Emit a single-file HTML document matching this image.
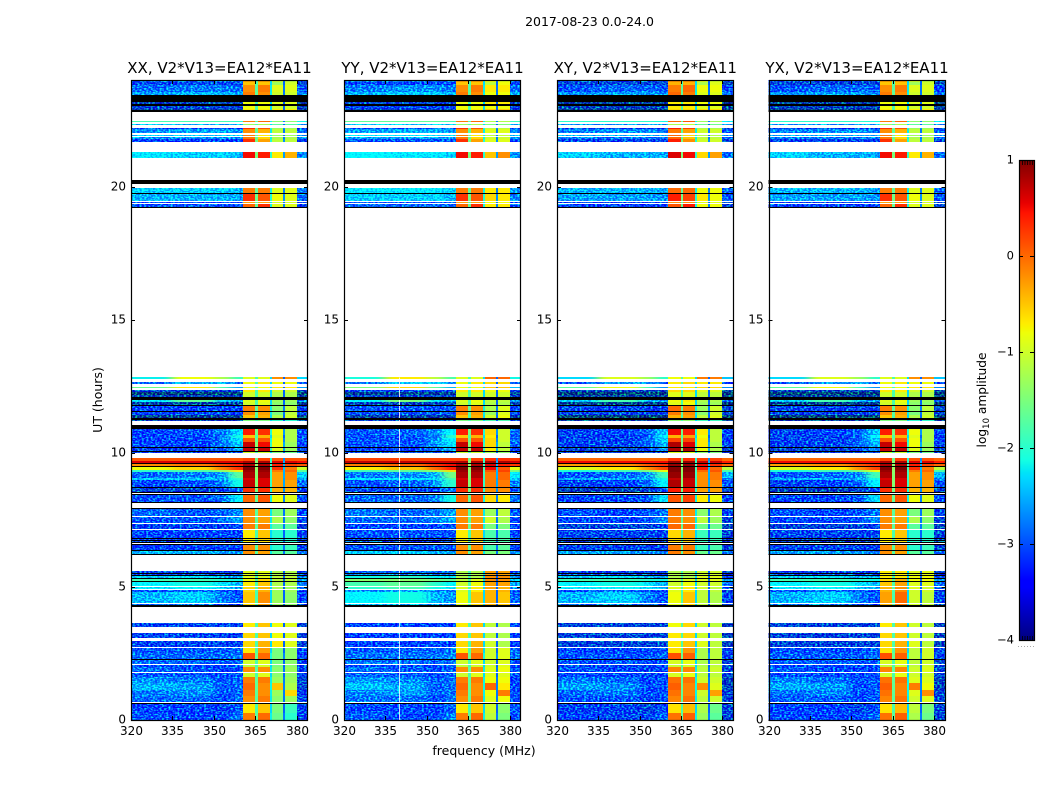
<!DOCTYPE html>
<html>
<head>
<meta charset="utf-8">
<title>2017-08-23 0.0-24.0</title>
<style>
html,body{margin:0;padding:0;background:#fff;}
svg{display:block;}
text{font-family:"DejaVu Sans","Liberation Sans",sans-serif;fill:#000;}
</style>
</head>
<body>
<svg id="chart" xmlns="http://www.w3.org/2000/svg" width="1050" height="800" viewBox="0 0 1050 800" shape-rendering="crispEdges">
<defs>
<filter id="speckle" x="-10%" y="-2%" width="120%" height="104%" color-interpolation-filters="sRGB">
<feTurbulence type="fractalNoise" baseFrequency="0.45 0.7" numOctaves="1" seed="3" result="noise"/>
<feColorMatrix in="noise" type="matrix" values="0 0 0 0 0  2.6 0 0 0 -1.05  0 0 0 0 0  0 0 0 0 1" result="greenNoise"/>
<feGaussianBlur in="SourceGraphic" stdDeviation="5 0" result="smooth"/>
<feComposite in="smooth" in2="greenNoise" operator="arithmetic" k1="0" k2="1" k3="1" k4="0"/>
</filter>
<filter id="smoothOnly" x="-10%" y="-2%" width="120%" height="104%" color-interpolation-filters="sRGB">
<feGaussianBlur in="SourceGraphic" stdDeviation="5 0"/>
</filter>
</defs>
<rect x="0" y="0" width="1050" height="800" fill="#fff"/>
<text x="589.5" y="26" font-size="12.5" text-anchor="middle">2017-08-23 0.0-24.0</text>
<text x="484" y="755" font-size="12.5" text-anchor="middle">frequency (MHz)</text>
<text transform="translate(102,400) rotate(-90)" font-size="12.5" text-anchor="middle">UT (hours)</text>
<text transform="translate(986,400) rotate(-90)" font-size="12.2" text-anchor="middle">log<tspan font-size="8.5" dy="3">10</tspan><tspan dy="-3"> amplitude</tspan></text>
</svg>
<script>
const W = null;
const K = -9;
const panelTitles = ["XX, V2*V13=EA12*EA11", "YY, V2*V13=EA12*EA11", "XY, V2*V13=EA12*EA11", "YX, V2*V13=EA12*EA11"];
const xTickLabels = [320, 335, 350, 365, 380];
const yTickLabels = [0, 5, 10, 15, 20];
const colorbarTicks = [1, 0, -1, -2, -3, -4];
const freqEdges = [320, 335, 350, 356, 360.4, 364.8, 370.2, 374.9, 379.9, 384];
const gapEdges = [[364.8, 365.8], [370.2, 370.9], [374.9, 375.6]];
const gapLevels = [-1.8, -2.3, -2.9];
const flaggedChannelsYY = [340];
const rowTops = [
24.00,23.93,23.81,23.55,23.44,23.19,23.10,23.04,22.91,22.88,
22.80,22.46,22.43,22.35,22.30,22.20,22.15,22.02,21.95,21.90,
21.85,21.78,21.69,21.30,21.08,20.25,20.10,19.95,19.77,19.74,
19.47,19.44,19.39,19.35,19.23,19.20,12.85,12.79,12.69,12.61,
12.50,12.44,12.39,12.29,12.19,12.12,12.00,11.91,11.81,11.78,
11.60,11.56,11.44,11.34,11.25,11.21,11.06,10.91,10.69,10.56,
10.44,10.25,10.21,10.09,10.05,10.00,9.83,9.72,9.65,9.61,
9.53,9.50,9.38,9.31,9.08,9.00,8.75,8.69,8.56,8.52,
8.48,8.44,8.19,8.14,7.95,7.92,7.65,7.61,7.40,7.38,
7.16,7.11,6.84,6.80,6.75,6.71,6.68,6.64,6.59,6.56,
6.375,6.33,6.23,6.19,5.59,5.52,5.475,5.44,5.40,5.325,
5.29,5.22,5.175,5.03,4.99,4.91,4.875,4.81,4.40,4.35,
4.30,4.25,3.64,3.47,3.42,3.40,3.25,3.06,2.97,2.75,
2.69,2.50,2.30,2.25,2.10,2.05,2.00,1.81,1.75,1.62,
1.39,1.125,0.90,0.66,0.62,0.59,0.25];
const rowLevels = [
[-2.7,-2.7,-2.7,-2.7,-.3,-.3,-1,-1.1,-2.9],
[-3,-3,-3,-3,-.5,-.5,-1.3,-1,-3.1],
[-2.7,-2.6,-2.6,-2.7,-.2,-.1,-.9,-.9,-2.8],
[-2.4,-2.3,-2.3,-2.4,-.1,-.2,-1,-1,-2.5],
K,
[-3.2,-3.2,-3.2,-3.2,-.8,-.8,-.9,-.9,-3.3],
K,
[-3.1,-3.1,-3.1,-3.1,-.8,-.8,-1,-1,-3.2],
[-3.3,-3.3,-3.3,-3.3,-.7,-.7,-.7,-.7,-3.3],
K,
W,
[-1.7,-1.7,-1.7,-1.8,-.1,0,-1.4,-1.4,-1.9],
W,
[-2.3,-2.3,-2.3,-2.3,-1.3,-1.2,-1.7,-1.7,-2.4],
W,
[-2.9,-2.9,-2.9,-2.9,.3,.1,-1.3,-1.3,-3],
[-2.5,-2.4,-2.4,-2.5,-.2,-.4,-1.1,-1.1,-2.7],
W,
[-2.2,-2.2,-2.2,-2.2,-.1,-.7,-1.3,-1.3,-2.4],
W,
[-2.5,-2.5,-2.5,-2.5,-.1,-.6,-1.2,-1.2,-2.6],
[-2.9,-2.9,-2.9,-2.9,.3,-.3,-1.1,-1.1,-3],
W,
[-2.1,-2.2,-2.2,-2.3,.5,.4,-.7,-.4,-2.6],
W,
K,
W,
[-2.2,-2.2,-2.2,-2.3,-.1,-.1,-.9,-.9,-2.6],
K,
[-2.3,-2.3,-2.3,-2.4,.3,.1,-.8,-.9,-2.7],
W,
[-2.9,-2.9,-2.9,-2.9,-.3,-.3,-1,-1,-3],
W,
[-2.8,-2.8,-2.8,-2.8,0,.3,-.9,-.9,-3],
K,
W,
[-2.2,-.8,-1.2,-1.9,-.9,-.9,-.2,-.2,-2.3],
W,
[-2.7,-2.3,-2.3,-2.7,-.8,-.7,-.8,-.8,-2.8],
W,
[-1.6,-.7,-1.8,-2.6,-.8,-.8,-.7,-.7,-2.6],
W,
[-3.1,-3.1,-3.1,-3.1,-.7,-.7,-1,-1,-3.2],
[-3.5,-3.5,-3.5,-3.5,-1,-1,-1.2,-1.2,-3.5],
[-3.2,-3.2,-3.2,-3.2,-1,-1,-1.2,-1.2,-3.3],
K,
[-2.1,-1.6,-2.2,-2.4,-.9,-.8,-1.3,-1.3,-2.6],
[-3.3,-3.3,-3.3,-3.3,-1,-.9,-1.4,-1.4,-3.4],
K,
[-2.9,-2.9,-2.9,-2.9,-.1,-.2,-1.4,-1.1,-3],
K,
[-2.9,-2.9,-2.9,-2.9,-.2,-.3,-1.5,-1.1,-3],
[-3.4,-3.4,-3.4,-3.4,-.5,-.4,-1.2,-1,-3.4],
K,
[-3.2,-3.2,-3.2,-3.2,-1.5,-1.5,-2,-2,-3.2],
W,
K,
[-2.9,-2.8,-2.6,-2.1,.4,.3,-.8,-1.2,-2.8],
[-2.9,-2.9,-2.7,-1.9,-.5,-.4,-.9,-1.2,-2.9],
[-2.9,-2.9,-2.6,-2.1,.1,.1,-.8,-1.2,-2.8],
[-2.9,-2.9,-2.6,-2.2,.7,.5,-.8,-1.3,-2.9],
K,
[-3,-3,-2.8,-2.4,.7,.7,-.9,-1.3,-3],
K,
[-2.9,-2.9,-2.9,-2.9,-1,-1,-1.5,-1.6,-3],
W,
[.1,.1,.1,.1,.2,.2,.1,.1,.1],
[.6,.6,.6,.6,.8,.8,.6,.6,.5],
K,
[-.2,-.1,.2,.4,.8,.8,.4,.2,.1],
K,
[-.8,-.6,-.1,.3,1,1,.3,-.1,-1],
[-2,-1.8,-1.4,-.7,.9,.9,-.1,0,-1.7],
[-2.7,-2.6,-2.4,-1.6,.8,.8,-.3,-.2,-2.2],
[-2.2,-2.2,-2.3,-1.8,.6,.6,-.3,-.2,-2.4],
[-2.9,-2.8,-2.6,-1.9,.7,.6,-.3,-.3,-2.7],
K,
[-3.1,-3.1,-3,-2.7,.3,.3,-.4,-.4,-3],
K,
W,
K,
[-2.8,-2.8,-2.7,-2,0,.1,-.8,-.9,-2.8],
K,
W,
K,
[-2.7,-2.8,-2.7,-2.5,-.2,-.3,-1.5,-1.3,-2.9],
W,
[-2.8,-2.8,-2.7,-2.4,-.2,-.3,-1.2,-1.4,-3],
W,
[-3,-3,-3,-2.9,-.1,-.1,-1.7,-1.7,-3.1],
W,
[-2.9,-2.9,-2.9,-2.9,-.7,-.5,-2,-2,-3],
K,
[-3,-3,-3,-3,-.7,-.6,-2,-2,-3],
K,
[-3,-3,-3,-3,-.7,-.6,-2,-2,-3],
K,
W,
K,
[-2.9,-2.9,-2.9,-2.9,-.2,-.2,-2,-1.9,-3],
K,
[-2.3,-2.3,-2.4,-2.5,-.2,-.3,-1.7,-1.7,-2.6],
K,
W,
[-3,-3,-3,-3,-.9,-.9,-1.2,-1.2,-3],
K,
[-2.8,-2.8,-2.8,-2.8,-.9,-.9,-1.2,-1.2,-2.9],
K,
[-2.2,-2.1,-2.3,-2.4,-.9,-.9,-1.1,-1.1,-2.7],
K,
[-1.7,-1.7,-1.8,-1.9,-.8,-.6,-1.1,-1.1,-2.4],
K,
[-2,-1.9,-2.1,-2.3,-.7,-.5,-1.2,-1.2,-2.6],
W,
[-2.1,-2,-2.2,-2.4,-.6,-.4,-1.2,-1.3,-2.7],
W,
[-2.8,-2.7,-2.8,-2.9,-.6,-.4,-1.3,-1.3,-3],
[-2.3,-2.2,-2.6,-2.8,-.5,-.2,-1.3,-1.4,-2.9],
W,
[-2.6,-2.6,-2.8,-2.9,-.6,-.3,-1.3,-1.4,-3],
K,
W,
[-3,-3,-3,-3,-.7,-.5,-.8,-.9,-3.1],
W,
[-3,-3,-3,-3,-.7,-.5,-.8,-.9,-3.1],
W,
[-3,-3,-3,-3,-.6,-.5,-.8,-.9,-3.1],
W,
[-3,-3,-3,-3,-.6,-.4,-.7,-.9,-3.1],
W,
[-2.8,-2.8,-2.8,-2.7,-.7,-.3,-1.5,-1.4,-2.9],
[-2.7,-2.7,-2.7,-2.6,.1,0,-1.5,-1.4,-2.9],
K,
[-2.7,-2.7,-2.8,-2.7,-1,-.9,-1.5,-1.4,-3],
W,
[-2.9,-2.9,-2.9,-2.8,-1.1,-1,-1.5,-1.4,-3],
[-2.7,-2.8,-2.9,-2.8,-.2,-.2,-1.4,-1.3,-3],
W,
[-2.8,-2.8,-2.9,-2.8,-1,-.9,-1.4,-1.4,-3],
[-2.5,-2.6,-2.8,-2.7,-.1,-.1,-1.3,-1.3,-3.1],
[-2.3,-2.4,-2.8,-2.7,0,-.2,-.5,-1.2,-3.1],
[-2.6,-2.5,-2.8,-2.7,-.1,-.2,-1.3,-.6,-3],
[-2.7,-2.7,-2.9,-2.7,-.2,-.1,-1.4,-1.3,-3],
W,
K,
[-2.9,-2.9,-3,-2.8,-.7,-.5,-1.5,-1.9,-3],
[-2.8,-2.9,-2.9,-2.6,-.1,0,-1.6,-2,-3]
];
/* hour zones (upper bounds); per-panel offsets per zone: low band, RFI A/B, RFI C/D, high band */
const zoneTops = [2.7, 3.7, 5.6, 24];
const offsetsXX = [[0,0,0,0],[0,0,0,0],[0,0,0,0],[0,0,0,0]];
const offsetsYY = [[.05,0,.5,.2],[.05,0,-.3,.15],[.3,-.3,.9,.2],[.1,0,.2,.15]];
const offsetsXY = [[-.1,.05,.3,-.1],[-.1,-.1,-.2,-.1],[0,-.3,.2,-.1],[-.1,.1,.1,-.1]];
const offsetsYX = [[-.05,.05,.4,-.1],[-.1,0,-.2,-.1],[0,.2,.3,-.1],[-.1,0,0,-.1]];
const panelOffsets = [offsetsXX, offsetsYY, offsetsXY, offsetsYX];

const svgNS = "http://www.w3.org/2000/svg";
const chart = document.getElementById("chart");
const defs = chart.querySelector("defs");
const panelBoxes = [[131, 308], [344, 521], [557, 733.5], [768.5, 945.5]];
const plotTop = 80, plotBottom = 720;
const yScale = h => plotBottom - h / 24 * (plotBottom - plotTop);
const vScale = v => 256 - v * 96;
const blockGroupOf = b => b < 4 ? 0 : b < 6 ? 1 : b < 8 ? 2 : 3;

function interp(t, pts) {
  for (let i = 1; i < pts.length; i++) {
    if (t <= pts[i][0]) {
      const a = pts[i - 1], b = pts[i];
      return a[1] + (b[1] - a[1]) * (t - a[0]) / (b[0] - a[0]);
    }
  }
  return pts[pts.length - 1][1];
}
function jet(v) {
  const t = Math.max(0, Math.min(1, (v + 4) / 5));
  const r = interp(t, [[0, 0], [.35, 0], [.66, 1], [.89, 1], [1, .5]]);
  const g = interp(t, [[0, 0], [.125, 0], [.375, 1], [.64, 1], [.91, 0], [1, 0]]);
  const b = interp(t, [[0, .5], [.11, 1], [.34, 1], [.65, 0], [1, 0]]);
  return "rgb(" + Math.round(r * 255) + "," + Math.round(g * 255) + "," + Math.round(b * 255) + ")";
}
/* the speckle filter adds green on top of the cell colour, so noisy cells start darker */
function speckleBase(v) {
  return v - .5 * Math.max(0, Math.min(1, (-1.5 - v) / .8));
}
function mk(tag, parent, attrs) {
  const el = document.createElementNS(svgNS, tag);
  for (const k in attrs) el.setAttribute(k, attrs[k]);
  parent.appendChild(el);
  return el;
}

panelBoxes.forEach((box, p) => {
  const x0 = box[0], x1 = box[1];
  const xScale = f => x0 + (f - 320) / 64 * (x1 - x0);
  const clip = mk("clipPath", defs, { id: "panel-clip-" + p });
  mk("rect", clip, { x: x0, y: plotTop, width: x1 - x0, height: plotBottom - plotTop });
  const g = mk("g", chart, {});
  
  
  const plot = mk("g", g, { "clip-path": "url(#panel-clip-" + p + ")" });
  
  
  const noisy = mk("g", plot, { filter: "url(#speckle)" });
  
  
  const bright = mk("g", plot, { filter: "url(#smoothOnly)" });
  
  
  const solid = mk("g", plot, {});
  
  
  const flagged = mk("g", plot, {});
  
  
  rowLevels.forEach((levels, r) => {
    const yTop = Math.round(yScale(rowTops[r]));
    const nextTop = r + 1 < rowTops.length ? rowTops[r + 1] : 0;
    const yBot = Math.round(yScale(nextTop));
    const hgt = Math.max(1, yBot - yTop);
    if (levels === W || levels === K) {
      const row = mk("rect", flagged, { x: x0 - 2, y: yTop, width: x1 - x0 + 4, height: hgt, fill: levels === W ? "#fff" : "#000" });
      
      
      return;
    }
    const zone = zoneTops.findIndex(z => rowTops[r] <= z);
    const off = panelOffsets[p][zone];
    const rowIsBright = Math.max(levels[0], levels[1], levels[2], levels[3]) > -1.6;
    levels.forEach((lv, b) => {
      const isBand = b < 4 || b === 8;
      let left = xScale(freqEdges[b]), right = xScale(freqEdges[b + 1]);
      if (b === 0) left -= 20;
      if (b === 3) right = xScale(372);
      if (b === 8) { left = xScale(372); right += 20; }
      const v = lv + off[blockGroupOf(b === 8 ? 99 : b)];
      const parent = !isBand ? solid : rowIsBright ? bright : noisy;
      const fillValue = parent === noisy ? speckleBase(v) : v;
      const cell = mk("rect", parent, { x: Math.round(left), y: yTop, width: Math.round(right) - Math.round(left), height: hgt, fill: jet(fillValue) });
      
      
    });
    gapEdges.forEach((ge, i) => {
      const left = Math.round(xScale(ge[0]));
      const gapCell = mk("rect", solid, { x: left, y: yTop, width: Math.max(1, Math.round(xScale(ge[1])) - left), height: hgt, fill: jet(gapLevels[i] + Math.max(0, levels[4] + .5) * .3) });
      
      
    });
  });
  if (p === 1) {
    flaggedChannelsYY.forEach(f => {
      const line = mk("rect", solid, { x: Math.round(xScale(f)), y: yScale(12.85), width: 1, height: yScale(0) - yScale(12.85), fill: "#fff", opacity: .8 });
      
      
    });
  }
  const frame = mk("rect", g, { x: Math.round(x0) + .5, y: plotTop + .5, width: Math.round(x1) - Math.round(x0) - 1, height: plotBottom - plotTop, fill: "none", stroke: "#000", "stroke-width": 1.2, "shape-rendering": "auto" });
  
  
  const title = mk("text", g, { x: (x0 + x1) / 2, y: 73, "font-size": 15, "text-anchor": "middle" });
  
  
  title.textContent = panelTitles[p];
  xTickLabels.forEach(f => {
    const x = Math.round(xScale(f)) + .5;
    const t1 = mk("line", g, { x1: x, x2: x, y1: plotBottom, y2: plotBottom - 4, stroke: "#000" });
    
    
    const t2 = mk("line", g, { x1: x, x2: x, y1: plotTop, y2: plotTop + 4, stroke: "#000" });
    
    
    const lab = mk("text", g, { x: x, y: 735, "font-size": 12, "text-anchor": "middle" });
    
    
    lab.textContent = f;
  });
  yTickLabels.forEach(h => {
    const y = Math.round(yScale(h)) + .5;
    const t1 = mk("line", g, { x1: x0, x2: x0 + 4, y1: y, y2: y, stroke: "#000" });
    
    
    const t2 = mk("line", g, { x1: x1 - 4, x2: x1, y1: y, y2: y, stroke: "#000" });
    
    
    const lab = mk("text", g, { x: x0 - 5, y: y + 3, "font-size": 12, "text-anchor": "end" });
    
    
    lab.textContent = h;
  });
});

/* colorbar */
const cbX0 = 1019, cbX1 = 1034;
const cbGroup = mk("g", chart, {});


for (let y = 160; y < 640; y++) {
  const v = (256 - y - .5) / 96;
  const s = mk("rect", cbGroup, { x: cbX0, y: y, width: cbX1 - cbX0, height: 1, fill: jet(v) });
  
  
}
const cbFrame = mk("rect", cbGroup, { x: cbX0 + .5, y: 160.5, width: cbX1 - cbX0, height: 480, fill: "none", stroke: "#000", "stroke-width": 1.2, "shape-rendering": "auto" });


colorbarTicks.forEach(v => {
  const y = Math.round(vScale(v)) + .5;
  const t1 = mk("line", cbGroup, { x1: cbX0, x2: cbX0 + 4, y1: y, y2: y, stroke: "#000" });
  
  
  const t2 = mk("line", cbGroup, { x1: cbX1 - 4, x2: cbX1, y1: y, y2: y, stroke: "#000" });
  
  
  const lab = mk("text", cbGroup, { x: cbX0 - 5, y: y + 3, "font-size": 11.5, "text-anchor": "end" });
  
  
  lab.textContent = String(v).replace("-", "\u2212");
});
for (let i = 0; i < 5; i++) {
  const x = cbX0 + 3.5 + i * 2.5;
  const a = mk("line", cbGroup, { x1: x, x2: x, y1: 161, y2: 165, stroke: "#000", "stroke-width": .8, "shape-rendering": "auto" });
  
  
  const b = mk("line", cbGroup, { x1: x, x2: x, y1: 636, y2: 640, stroke: "#000", "stroke-width": .8, "shape-rendering": "auto" });
  
  
}
const dots = mk("line", cbGroup, { x1: 1018, x2: 1035, y1: 646.5, y2: 646.5, stroke: "#aaa", "stroke-dasharray": "1 2" });


</script>
</body>
</html>
